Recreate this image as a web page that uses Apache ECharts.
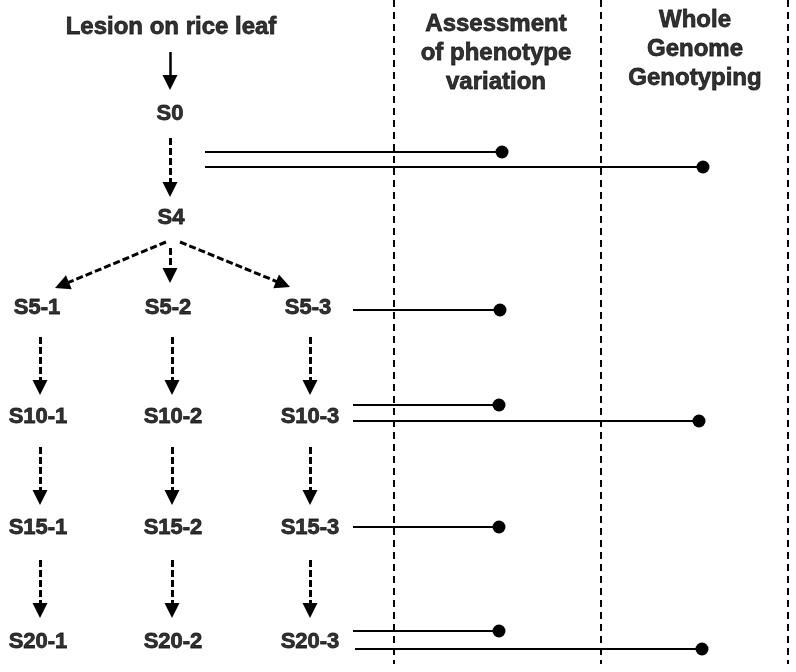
<!DOCTYPE html>
<html>
<head>
<meta charset="utf-8">
<script src="https://cdn.jsdelivr.net/npm/echarts@6/dist/echarts.min.js"></script>
<style>html,body{margin:0;padding:0;background:#fff}#c{width:796px;height:672px}</style>
</head>
<body>
<div id="c"></div>
<script>
// Node labels with their layout position (diagram coordinates)
var nodeLabels = ['Lesion on rice leaf','S0','S4','S5-1','S5-2','S5-3','S10-1','S10-2','S10-3','S15-1','S15-2','S15-3','S20-1','S20-2','S20-3'];
var nodeX = [171,170,171,37,168,308,38,173,310,38,173,310,38,173,310];
var nodeY = [27,114,218,308,308,308,417,417,417,528,528,528,642,642,642];

// Column headers
var headerLabels = ['Assessment\nof phenotype\nvariation','Whole\nGenome\nGenotyping'];
var headerX = [496,695];
var headerY = [53,49];

// Dashed column dividers (x positions)
var dividerX = [394,601,788];

// Flow arrows: [x1,y1,x2(tip),y2(tip), dashed?]
var flowArrows = [
  [170,52,170,90,false],
  [170,138,170,197,true],
  [166,242,55,288,true],
  [170,248,170,283,true],
  [180,242,290,287,true],
  [40,337,40,395,true],[172,337,172,395,true],[310,337,310,395,true],
  [40,447,40,505,true],[172,447,172,505,true],[310,447,310,505,true],
  [40,560,40,618,true],[172,560,172,618,true],[310,560,310,618,true]
];

// Sampling links: [xStart, y, xEnd(dot)]
var sampleLinks = [
  [205,152,502],[205,167,703],
  [353,310,500],
  [353,405,499],[353,421,699],
  [353,527,499],
  [353,631,499],[355,649,702]
];

var headLen = 15, headW = 13;
function arrowData(a){
  var dx=a[2]-a[0], dy=a[3]-a[1], L=Math.sqrt(dx*dx+dy*dy);
  var ex=a[2]-dx/L*headLen/2, ey=a[3]-dy/L*headLen/2;
  return {coords:[[a[0],a[1]],[ex,ey]]};
}

var chart = echarts.init(document.getElementById('c'), null, {renderer:'canvas'});
var font = 'Liberation Sans, Arial, sans-serif';
chart.setOption({
  animation:false,
  grid:{left:0,right:0,top:0,bottom:0},
  xAxis:{type:'value',min:0,max:796,show:false},
  yAxis:{type:'value',min:0,max:672,inverse:true,show:false},
  series:[
    {
      type:'lines',coordinateSystem:'cartesian2d',silent:true,
      symbol:['none','none'],
      lineStyle:{color:'#000',width:2,type:[7,5],opacity:1},
      data:dividerX.map(function(x){return {coords:[[x,0],[x,664]]};})
    },
    {
      type:'lines',coordinateSystem:'cartesian2d',silent:true,
      symbol:['none','triangle'],symbolSize:[headW,headLen],
      lineStyle:{color:'#000',width:2.5,type:'solid',opacity:1},
      itemStyle:{color:'#000'},
      data:flowArrows.filter(function(a){return !a[4];}).map(arrowData)
    },
    {
      type:'lines',coordinateSystem:'cartesian2d',silent:true,
      symbol:['none','triangle'],symbolSize:[headW,headLen],
      lineStyle:{color:'#000',width:3,type:[7,3],opacity:1},
      itemStyle:{color:'#000'},
      data:flowArrows.filter(function(a){return a[4];}).map(arrowData)
    },
    {
      type:'lines',coordinateSystem:'cartesian2d',silent:true,
      symbol:['none','circle'],symbolSize:13,
      lineStyle:{color:'#000',width:2.2,type:'solid',opacity:1},
      itemStyle:{color:'#000'},
      data:sampleLinks.map(function(s){return {coords:[[s[0],s[1]],[s[2],s[1]]]};})
    },
    {
      type:'scatter',silent:true,symbolSize:0,
      label:{show:true,position:'inside',formatter:'{b}',color:'#000',fontFamily:font,fontWeight:'bold',fontSize:22,textBorderColor:'#000',textBorderWidth:0.8},
      data:nodeLabels.map(function(n,i){
        var d={name:n,value:[nodeX[i],nodeY[i]]};
        if(i===0){d.label={fontSize:24};}
        return d;
      })
    },
    {
      type:'scatter',silent:true,symbolSize:0,
      label:{show:true,position:'inside',formatter:'{b}',color:'#000',fontFamily:font,fontWeight:'bold',fontSize:24,lineHeight:29,align:'center',textBorderColor:'#000',textBorderWidth:0.8},
      data:headerLabels.map(function(n,i){return {name:n,value:[headerX[i],headerY[i]]};})
    }
  ]
});
</script>
</body>
</html>
